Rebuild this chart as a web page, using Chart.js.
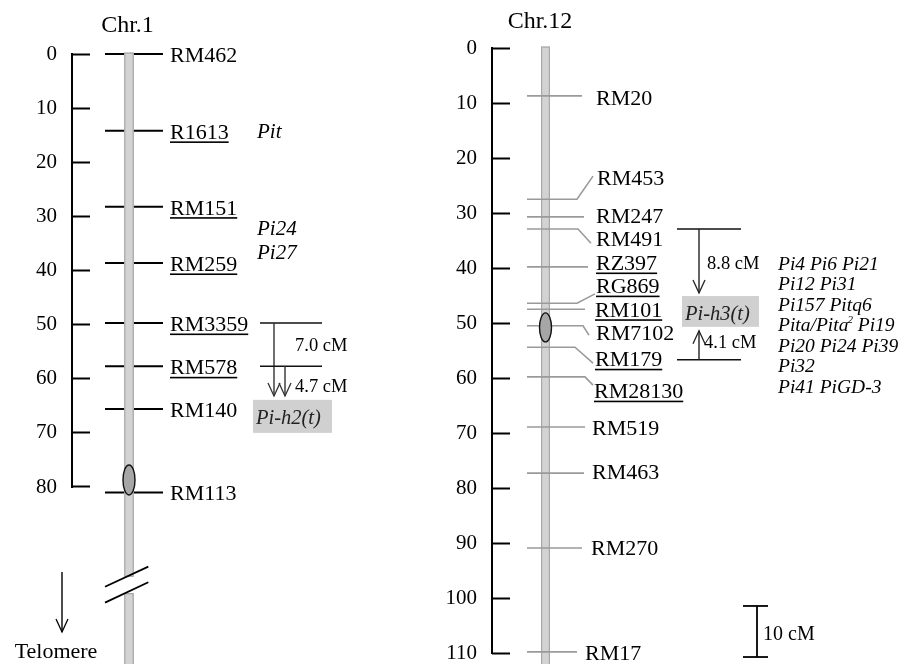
<!DOCTYPE html>
<html><head><meta charset="utf-8">
<script src="https://cdn.jsdelivr.net/npm/chart.js@4/dist/chart.umd.min.js"></script>
<style>
html,body{margin:0;padding:0;background:#fff;overflow:hidden}
#wrap{position:relative;width:913px;height:664px;background:#fff}
canvas{position:absolute;top:0}
</style></head><body>
<div id="wrap">
<canvas id="c1" width="440" height="664" style="left:0px"></canvas>
<canvas id="c12" width="473" height="664" style="left:440px"></canvas>
</div>
<script>
// ---------------- DATA ----------------
const chr1Ticks = [0, 10, 20, 30, 40, 50, 60, 70, 80];
const chr1Markers = ['RM462', 'R1613', 'RM151', 'RM259', 'RM3359', 'RM578', 'RM140', 'RM113'];
const chr1Positions = [0, 14.2, 28.2, 38.6, 49.7, 57.7, 65.6, 81.0];
const chr1Underlined = ['R1613', 'RM151', 'RM259', 'RM3359', 'RM578'];
const chr1Genes = ['Pit', 'Pi24', 'Pi27'];
const chr1GenePositions = [15.5, 33.4, 37.8];
const chr1Centromere = 78.7;
const chr1Target = 'Pi-h2(t)';
const chr1Distances = ['7.0 cM', '4.7 cM'];
const chr1Flanks = [49.7, 57.7];

const chr12Ticks = [0, 10, 20, 30, 40, 50, 60, 70, 80, 90, 100, 110];
const chr12Markers = ['RM20', 'RM453', 'RM247', 'RM491', 'RZ397', 'RG869', 'RM101', 'RM7102', 'RM179', 'RM28130', 'RM519', 'RM463', 'RM270', 'RM17'];
const chr12Positions = [8.7, 27.5, 30.7, 32.9, 39.8, 46.4, 47.5, 50.5, 54.4, 59.8, 68.9, 77.3, 90.9, 109.8];
const chr12Underlined = ['RZ397', 'RG869', 'RM101', 'RM179', 'RM28130'];
const chr12Genes = ['Pi4 Pi6 Pi21', 'Pi12 Pi31', 'Pi157 Pitq6', 'Pita/Pita^2 Pi19', 'Pi20 Pi24 Pi39', 'Pi32', 'Pi41 PiGD-3'];
const chr12Centromere = 50.8;
const chr12Target = 'Pi-h3(t)';
const chr12Distances = ['8.8 cM', '4.1 cM'];
const chr12Flanks = [32.9, 56.7];
const scaleBarLabel = '10 cM';

// ---------------- LAYOUT ----------------
const FONT = '"Liberation Serif", "Times New Roman", serif';
const L1 = {
  zeroPx: 54, pxPerCM: 5.4125, height: 664, axisW: 90, xMin: 90, xMax: 440,
  spineX: 72, barX: 129, barW: 9.6, lineX0: 105, lineX1: 163, labelX: 170,
  breakTop: 96.6, breakBottom: 99.6,
  slashes: [[105, 98.42, 148.3, 94.72], [105, 101.37, 148.3, 97.6]],
  geneX: 257, bracketX0: 260, bracketX1: 322, arrowX: [274, 285], arrowTip: 63.2,
  distX: 295, distCM: [53.67, 61.2], boxX: [253, 332], boxCM: [63.9, 70.0], boxTextX: 256, boxBaseCM: 68.36,
  titleX: 127.5, titleBaseCM: -4.12, teloX: 62, teloCM: [95.7, 106.8], teloTextX: 56, teloTextCM: 111.6
};
const L12 = {
  zeroPx: 48, pxPerCM: 5.5, height: 664, axisW: 70, xMin: 510, xMax: 913,
  spineX: 492, barX: 545.5, barW: 9, lineX0: 527,
  lineEndX: [582, 577, 584, 578, 588, 577, 585, 583, 575, 585, 585, 584, 582, 577],
  leader: [null, [593, 23.3], null, [591, 35.5], null, [595, 44.7], null, [589, 52.2], [593, 57.3], [593, 61.3], null, null, null, null],
  labelX: [596, 597, 596, 596, 596, 596, 595, 596, 595, 594, 592, 592, 591, 585],
  labelCM: [9.0, 23.6, 30.4, 34.6, 39.0, 43.2, 47.5, 51.7, 56.5, 62.3, 69.0, 77.0, 90.8, 109.9],
  bracketX0: 677, bracketX1: 741, arrowX: 699, arrowTips: [44.55, 51.4],
  distX: [707, 704], distCM: [39.0, 53.4], boxX: [682, 759], boxCM: [45.1, 50.7], boxTextX: 685, boxBaseCM: 49.45,
  geneX: 778, geneBaseCM: 40.36, geneStepPx: 20.5,
  scaleX: 757, scaleCapX: [743, 768], scaleCM: [101.45, 110.73], scaleTextX: 763, scaleTextCM: 107.6,
  titleX: 540, titleBaseCM: -3.64
};

// ---------------- HELPERS ----------------
function txt(ctx, s, x, y, size, o) {
  o = o || {};
  ctx.save();
  ctx.font = (o.italic ? 'italic ' : '') + size + 'px ' + FONT;
  ctx.fillStyle = o.color || '#000';
  ctx.textAlign = o.align || 'left';
  ctx.textBaseline = 'alphabetic';
  if (s.indexOf('^') >= 0) {
    const parts = s.split('^');
    let cx = x;
    ctx.fillText(parts[0], cx, y); cx += ctx.measureText(parts[0]).width;
    const sup = parts[1].charAt(0), rest = parts[1].slice(1);
    ctx.font = (o.italic ? 'italic ' : '') + Math.round(size * 0.55) + 'px ' + FONT;
    ctx.fillText(sup, cx - 1, y - size * 0.42); cx += ctx.measureText(sup).width - 1;
    ctx.font = (o.italic ? 'italic ' : '') + size + 'px ' + FONT;
    ctx.fillText(rest, cx, y);
  } else {
    ctx.fillText(s, x, y);
  }
  if (o.underline) {
    const w = ctx.measureText(s).width;
    ctx.fillRect(x, y + 2.5, w, 1.6);
  }
  ctx.restore();
}
function line(ctx, x1, y1, x2, y2, color, w) {
  ctx.save(); ctx.strokeStyle = color; ctx.lineWidth = w;
  ctx.beginPath(); ctx.moveTo(x1, y1); ctx.lineTo(x2, y2); ctx.stroke(); ctx.restore();
}
function arrow(ctx, x, yFrom, yTo, color) {
  line(ctx, x, yFrom, x, yTo, color, 1.4);
  const d = yTo > yFrom ? -1 : 1;
  ctx.save(); ctx.strokeStyle = color; ctx.lineWidth = 1.3;
  ctx.beginPath(); ctx.moveTo(x - 6, yTo + d * 13); ctx.lineTo(x, yTo); ctx.lineTo(x + 6, yTo + d * 13); ctx.stroke(); ctx.restore();
}
function bar(ctx, xc, w, y1, y2) {
  ctx.save();
  ctx.fillStyle = '#d3d3d3';
  ctx.fillRect(xc - w / 2, y1, w, y2 - y1);
  ctx.strokeStyle = '#a8a8a8'; ctx.lineWidth = 1.2;
  ctx.strokeRect(xc - w / 2 + 0.6, y1 + 0.6, w - 1.2, y2 - y1 - 1.2);
  ctx.restore();
}
function ellipse(ctx, x, y, rx, ry) {
  ctx.save(); ctx.fillStyle = '#a6a6a6'; ctx.strokeStyle = '#111'; ctx.lineWidth = 1.4;
  ctx.beginPath(); ctx.ellipse(x, y, rx, ry, 0, 0, Math.PI * 2); ctx.fill(); ctx.stroke(); ctx.restore();
}
function yAxis(L, tickVals) {
  return {
    type: 'linear', reverse: true, position: 'left',
    min: -L.zeroPx / L.pxPerCM, max: (L.height - L.zeroPx) / L.pxPerCM,
    afterBuildTicks: s => { s.ticks = tickVals.map(v => ({ value: v })); },
    afterFit: s => { s.width = L.axisW; s.paddingTop = 0; s.paddingBottom = 0; },
    ticks: { font: { family: FONT, size: 21 }, color: '#000', padding: 15, autoSkip: false, maxRotation: 0 },
    grid: { display: true, drawOnChartArea: false, drawTicks: true, tickLength: 18, tickWidth: 2, tickColor: '#000', color: '#000' },
    border: { display: false }
  };
}
function baseOptions(L, tickVals) {
  return {
    responsive: false, maintainAspectRatio: false, devicePixelRatio: 1, animation: false,
    layout: { padding: 0 },
    plugins: { legend: { display: false }, tooltip: { enabled: false } },
    scales: {
      x: { type: 'linear', display: false, min: L.xMin, max: L.xMax },
      y: yAxis(L, tickVals)
    }
  };
}

// ---------------- CHR.1 ----------------
const chr1Datasets = chr1Markers.map((m, i) => ({
  label: m, showLine: true, pointRadius: 0, borderColor: '#000', borderWidth: 2,
  data: [{ x: L1.lineX0, y: chr1Positions[i] }, { x: L1.lineX1, y: chr1Positions[i] }]
}));
const chr1Plugin = {
  id: 'chr1draw',
  afterDatasetsDraw(chart) {
    const ctx = chart.ctx, X = v => chart.scales.x.getPixelForValue(v), Y = v => chart.scales.y.getPixelForValue(v);
    // spine
    line(ctx, X(L1.spineX), Y(chr1Ticks[0]) - 1, X(L1.spineX), Y(chr1Ticks[chr1Ticks.length - 1]) + 1, '#000', 2);
    // chromosome with break
    bar(ctx, X(L1.barX), L1.barW, Y(0) - 1.5, Y(L1.breakTop));
    bar(ctx, X(L1.barX), L1.barW, Y(L1.breakBottom), L1.height + 2);
    L1.slashes.forEach(s => line(ctx, X(s[0]), Y(s[1]), X(s[2]), Y(s[3]), '#000', 1.8));
    ellipse(ctx, X(L1.barX), Y(chr1Centromere), 6, 15);
    // labels
    chr1Markers.forEach((m, i) => txt(ctx, m, X(L1.labelX), Y(chr1Positions[i]) + 8, 22, { underline: chr1Underlined.includes(m) }));
    chr1Genes.forEach((g, i) => txt(ctx, g, X(L1.geneX), Y(chr1GenePositions[i]), 21, { italic: true }));
    // brackets
    chr1Flanks.forEach((f, i) => {
      line(ctx, X(L1.bracketX0), Y(f), X(L1.bracketX1), Y(f), '#111', 1.5);
      arrow(ctx, X(L1.arrowX[i]), Y(f), Y(L1.arrowTip), '#333');
      txt(ctx, chr1Distances[i], X(L1.distX), Y(L1.distCM[i]) + 6.5, 18.5);
    });
    ctx.save(); ctx.fillStyle = '#d0d0d0';
    ctx.fillRect(X(L1.boxX[0]), Y(L1.boxCM[0]), X(L1.boxX[1]) - X(L1.boxX[0]), Y(L1.boxCM[1]) - Y(L1.boxCM[0]));
    ctx.restore();
    txt(ctx, chr1Target, X(L1.boxTextX), Y(L1.boxBaseCM), 20.5, { italic: true, color: '#222' });
    // title
    txt(ctx, 'Chr.1', X(L1.titleX), Y(L1.titleBaseCM), 24, { align: 'center' });
    // telomere
    arrow(ctx, X(L1.teloX), Y(L1.teloCM[0]), Y(L1.teloCM[1]), '#000');
    txt(ctx, 'Telomere', X(L1.teloTextX), Y(L1.teloTextCM), 22, { align: 'center' });
  }
};
new Chart(document.getElementById('c1'), {
  type: 'scatter',
  data: { datasets: chr1Datasets },
  options: baseOptions(L1, chr1Ticks),
  plugins: [chr1Plugin]
});

// ---------------- CHR.12 ----------------
const chr12Datasets = chr12Markers.map((m, i) => {
  const pts = [{ x: L12.lineX0, y: chr12Positions[i] }, { x: L12.lineEndX[i], y: chr12Positions[i] }];
  if (L12.leader[i]) pts.push({ x: L12.leader[i][0], y: L12.leader[i][1] });
  return { label: m, showLine: true, pointRadius: 0, borderColor: '#9a9a9a', borderWidth: 1.6, data: pts };
});
const chr12Plugin = {
  id: 'chr12draw',
  beforeDatasetsDraw(chart) {
    const ctx = chart.ctx, X = v => chart.scales.x.getPixelForValue(v), Y = v => chart.scales.y.getPixelForValue(v);
    line(ctx, X(L12.spineX), Y(chr12Ticks[0]) - 1, X(L12.spineX), Y(chr12Ticks[chr12Ticks.length - 1]) + 1, '#000', 2);
    bar(ctx, X(L12.barX), L12.barW, Y(0) - 1.5, L12.height + 2);
  },
  afterDatasetsDraw(chart) {
    const ctx = chart.ctx, X = v => chart.scales.x.getPixelForValue(v), Y = v => chart.scales.y.getPixelForValue(v);
    ellipse(ctx, X(L12.barX), Y(chr12Centromere), 6, 14.5);
    chr12Markers.forEach((m, i) => txt(ctx, m, X(L12.labelX[i]), Y(L12.labelCM[i]) + 7.5, 22, { underline: chr12Underlined.includes(m) }));
    // brackets
    chr12Flanks.forEach((f, i) => {
      line(ctx, X(L12.bracketX0), Y(f), X(L12.bracketX1), Y(f), '#111', 1.5);
      arrow(ctx, X(L12.arrowX), Y(f), Y(L12.arrowTips[i]), '#222');
      txt(ctx, chr12Distances[i], X(L12.distX[i]), Y(L12.distCM[i]) + 6.5, 18.5);
    });
    ctx.save(); ctx.fillStyle = '#d0d0d0';
    ctx.fillRect(X(L12.boxX[0]), Y(L12.boxCM[0]), X(L12.boxX[1]) - X(L12.boxX[0]), Y(L12.boxCM[1]) - Y(L12.boxCM[0]));
    ctx.restore();
    txt(ctx, chr12Target, X(L12.boxTextX), Y(L12.boxBaseCM), 20.5, { italic: true, color: '#222' });
    // genes
    chr12Genes.forEach((g, i) => txt(ctx, g, X(L12.geneX), Y(L12.geneBaseCM) + i * L12.geneStepPx, 19.5, { italic: true }));
    // scale bar
    const sx = X(L12.scaleX), s1 = Y(L12.scaleCM[0]), s2 = Y(L12.scaleCM[1]);
    line(ctx, sx, s1, sx, s2, '#000', 1.8);
    line(ctx, X(L12.scaleCapX[0]), s1, X(L12.scaleCapX[1]), s1, '#000', 1.8);
    line(ctx, X(L12.scaleCapX[0]), s2, X(L12.scaleCapX[1]), s2, '#000', 1.8);
    txt(ctx, scaleBarLabel, X(L12.scaleTextX), Y(L12.scaleTextCM), 20);
    txt(ctx, 'Chr.12', X(L12.titleX), Y(L12.titleBaseCM), 24, { align: 'center' });
  }
};
new Chart(document.getElementById('c12'), {
  type: 'scatter',
  data: { datasets: chr12Datasets },
  options: baseOptions(L12, chr12Ticks),
  plugins: [chr12Plugin]
});
</script>
</body></html>
